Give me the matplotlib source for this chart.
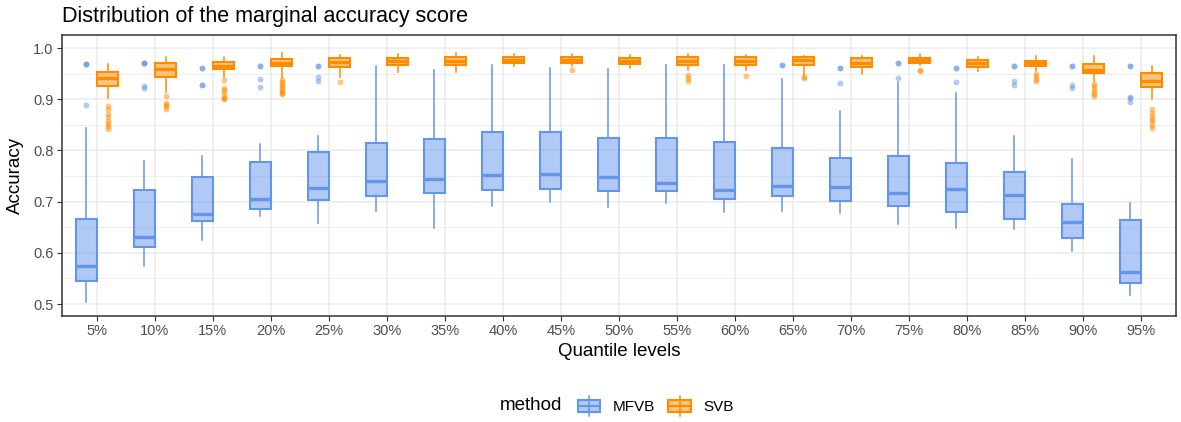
import numpy as np
import matplotlib
matplotlib.use("Agg")
import matplotlib.pyplot as plt
from matplotlib.colors import to_rgba
from matplotlib.patches import Rectangle, Patch
from matplotlib.lines import Line2D
from matplotlib.legend_handler import HandlerBase
from matplotlib.ticker import MultipleLocator

plt.rcParams['font.family'] = ['Liberation Sans', 'DejaVu Sans']

# Five-number summaries of the marginal accuracy per quantile level
quantiles = ['5%', '10%', '15%', '20%', '25%', '30%', '35%', '40%', '45%', '50%',
             '55%', '60%', '65%', '70%', '75%', '80%', '85%', '90%', '95%']

mfvb_whislo = [0.504, 0.575, 0.625, 0.671, 0.658, 0.682, 0.649, 0.692, 0.700, 0.690,
               0.697, 0.680, 0.682, 0.677, 0.656, 0.648, 0.646, 0.604, 0.518]
mfvb_q1 = [0.544, 0.611, 0.662, 0.686, 0.703, 0.710, 0.717, 0.723, 0.725, 0.721,
           0.721, 0.706, 0.710, 0.702, 0.691, 0.680, 0.666, 0.628, 0.542]
mfvb_med = [0.574, 0.631, 0.675, 0.706, 0.726, 0.740, 0.745, 0.752, 0.753, 0.749,
            0.737, 0.723, 0.730, 0.729, 0.717, 0.724, 0.713, 0.661, 0.563]
mfvb_q3 = [0.667, 0.723, 0.748, 0.778, 0.796, 0.814, 0.822, 0.835, 0.835, 0.824,
           0.824, 0.817, 0.804, 0.785, 0.789, 0.775, 0.757, 0.695, 0.664]
mfvb_whishi = [0.843, 0.780, 0.790, 0.813, 0.829, 0.965, 0.958, 0.967, 0.960, 0.959,
               0.967, 0.967, 0.939, 0.877, 0.934, 0.913, 0.828, 0.783, 0.697]
mfvb_fliers = [[0.968, 0.968, 0.968, 0.889], [0.970, 0.970, 0.970, 0.926, 0.922],
               [0.960, 0.960, 0.928, 0.928], [0.964, 0.964, 0.939, 0.923],
               [0.964, 0.964, 0.943, 0.936], [], [], [], [], [], [], [],
               [0.967, 0.967], [0.960, 0.960, 0.932], [0.971, 0.971, 0.941],
               [0.960, 0.960, 0.933], [0.964, 0.964, 0.936, 0.928],
               [0.964, 0.964, 0.928, 0.921], [0.964, 0.964, 0.905, 0.902, 0.895]]

svb_whislo = [0.903, 0.915, 0.943, 0.941, 0.944, 0.954, 0.954, 0.964, 0.964, 0.960,
              0.957, 0.958, 0.947, 0.949, 0.967, 0.955, 0.955, 0.936, 0.900]
svb_q1 = [0.926, 0.944, 0.959, 0.964, 0.962, 0.967, 0.967, 0.971, 0.971, 0.969,
          0.967, 0.967, 0.967, 0.962, 0.970, 0.962, 0.964, 0.952, 0.923]
svb_med = [0.941, 0.959, 0.965, 0.970, 0.972, 0.974, 0.975, 0.977, 0.977, 0.975,
           0.975, 0.975, 0.976, 0.971, 0.977, 0.970, 0.970, 0.958, 0.936]
svb_q3 = [0.954, 0.970, 0.973, 0.979, 0.981, 0.980, 0.982, 0.983, 0.982, 0.981,
          0.982, 0.983, 0.982, 0.981, 0.981, 0.977, 0.975, 0.969, 0.951]
svb_whishi = [0.968, 0.983, 0.983, 0.990, 0.986, 0.988, 0.990, 0.988, 0.988, 0.986,
              0.988, 0.986, 0.984, 0.985, 0.988, 0.983, 0.985, 0.984, 0.965]
svb_fliers = [[0.886, 0.880, 0.872, 0.865, 0.858, 0.852, 0.847, 0.841],
              [0.906, 0.893, 0.889, 0.886, 0.880],
              [0.938, 0.922, 0.918, 0.912, 0.905, 0.902, 0.900],
              [0.938, 0.933, 0.929, 0.925, 0.921, 0.918, 0.915, 0.912, 0.910],
              [0.934], [], [], [], [0.958], [], [0.947, 0.941, 0.936], [0.945],
              [0.944, 0.942], [], [0.957, 0.955], [],
              [0.949, 0.945, 0.940, 0.936],
              [0.930, 0.925, 0.920, 0.915, 0.910, 0.906],
              [0.880, 0.874, 0.868, 0.862, 0.857, 0.850, 0.843]]

MFVB_COL = '#6495ED'
SVB_COL = '#FF8C00'


def make_stats(lo, q1, med, q3, hi, fliers):
    return [dict(whislo=lo[i], q1=q1[i], med=med[i], q3=q3[i], whishi=hi[i],
                 fliers=np.array(fliers[i])) for i in range(len(lo))]


def draw_boxes(ax, stats, positions, color):
    ax.bxp(stats, positions=positions, widths=0.36, showcaps=False,
           patch_artist=True, manage_ticks=False,
           boxprops=dict(facecolor=to_rgba(color, 0.5), edgecolor=color, linewidth=1.5),
           medianprops=dict(color=color, linewidth=2.4, solid_capstyle='butt'),
           whiskerprops=dict(color=color, linewidth=1.1),
           flierprops=dict(marker='o', markerfacecolor=color, markeredgecolor='none',
                           markersize=4.2, alpha=0.5))


class BoxKey(HandlerBase):
    """Legend key drawn as a small boxplot glyph"""

    def create_artists(self, legend, orig_handle, xdescent, ydescent,
                       width, height, fontsize, trans):
        edge = orig_handle.get_edgecolor()
        face = orig_handle.get_facecolor()
        x0, y0 = -xdescent, -ydescent
        cx = x0 + width / 2
        whisk = Line2D([cx, cx], [y0, y0 + height], color=edge, lw=1.1,
                       transform=trans)
        box = Rectangle((x0 + 0.04 * width, y0 + 0.2 * height), 0.92 * width,
                        0.6 * height, facecolor=face, edgecolor=edge, lw=1.5,
                        transform=trans)
        med = Line2D([x0 + 0.04 * width, x0 + 0.96 * width],
                     [y0 + height / 2, y0 + height / 2], color=edge, lw=1.5,
                     transform=trans)
        return [whisk, box, med]


W, H = 1181, 422
fig = plt.figure(figsize=(W / 100, H / 100), dpi=100)
ax = fig.add_axes([62 / W, 1 - 316 / H, (1176 - 62) / W, (316 - 35) / H])

pos = np.arange(1, len(quantiles) + 1)
draw_boxes(ax, make_stats(mfvb_whislo, mfvb_q1, mfvb_med, mfvb_q3, mfvb_whishi, mfvb_fliers),
           pos - 0.185, MFVB_COL)
draw_boxes(ax, make_stats(svb_whislo, svb_q1, svb_med, svb_q3, svb_whishi, svb_fliers),
           pos + 0.185, SVB_COL)

ax.set_xlim(0.4, len(quantiles) + 0.6)
ax.set_ylim(0.4766, 1.0254)
ax.set_xticks(pos)
ax.set_xticklabels(quantiles)
ax.yaxis.set_major_locator(MultipleLocator(0.1))
ax.yaxis.set_minor_locator(MultipleLocator(0.05))
ax.yaxis.set_major_formatter(matplotlib.ticker.FormatStrFormatter('%.1f'))

# theme_bw look
ax.set_axisbelow(True)
ax.grid(which='major', color='#EBEBEB', linewidth=1.1)
ax.grid(which='minor', axis='y', color='#EBEBEB', linewidth=0.6)
for s in ax.spines.values():
    s.set_color('#333333')
    s.set_linewidth(1.1)
ax.tick_params(which='major', length=3.5, width=0.8, color='#333333',
               labelcolor='#4D4D4D', labelsize=10.5, pad=2.5)
ax.tick_params(which='minor', length=0)

fig.text(62 / W, 1 - 22 / H, 'Distribution of the marginal accuracy score',
         fontsize=15.5, ha='left', va='baseline')
fig.text(15 / W, 1 - 175.5 / H, 'Accuracy', fontsize=13.5, rotation=90,
         ha='center', va='center')
fig.text(619 / W, 1 - 352 / H, 'Quantile levels', fontsize=13.5,
         ha='center', va='center')

fig.text(500 / W, 1 - 406 / H, 'method', fontsize=13.5, ha='left', va='center')
handles = [Patch(facecolor=to_rgba(MFVB_COL, 0.5), edgecolor=MFVB_COL),
           Patch(facecolor=to_rgba(SVB_COL, 0.5), edgecolor=SVB_COL)]
fig.legend(handles, ['MFVB', 'SVB'], handler_map={Patch: BoxKey()},
           loc='center left', bbox_to_anchor=(577 / W, 1 - 406 / H), ncol=2,
           frameon=False, fontsize=11, handlelength=1.6, handleheight=1.6,
           handletextpad=0.75, columnspacing=0.8, borderpad=0, borderaxespad=0)

fig.savefig('out.png', dpi=100)
